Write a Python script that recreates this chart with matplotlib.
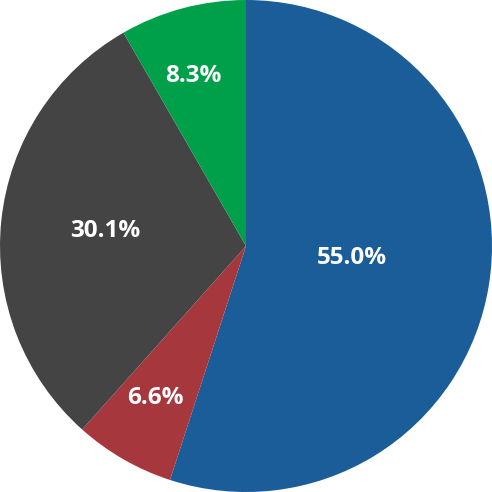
import numpy as np
from matplotlib import pyplot as plt

# slice values (percent), clockwise from 12 o'clock
labels = ['A', 'B', 'C', 'D']
values = [55.0, 6.6, 30.1, 8.3]
colors = ['#1a5d98', '#a5373d', '#444444', '#00a04b']

# where each percentage label sits: fraction of radius, and a small angle nudge (deg)
label_radius = [0.432, 0.71, 0.578, 0.735]
label_nudge = [4.1, -1.5, -1.4, 2.1]

plt.rcParams['font.family'] = ['Open Sans', 'DejaVu Sans']

fig = plt.figure(figsize=(4.92, 4.92), dpi=100)
ax = fig.add_axes([0, 0, 1, 1])
wedges, _ = ax.pie(values, colors=colors, startangle=90, counterclock=False,
                   radius=1, wedgeprops={'linewidth': 0})

for w, v, r, d in zip(wedges, values, label_radius, label_nudge):
    mid = np.deg2rad((w.theta1 + w.theta2) / 2 + d)
    ax.text(r * np.cos(mid), r * np.sin(mid), f'{v:.1f}%', ha='center',
            va='center_baseline', color='white', fontsize=17.5, fontweight='bold')

ax.set_xlim(-1, 1)
ax.set_ylim(-1, 1)
ax.set_aspect('equal')
ax.axis('off')
fig.savefig('out.png', dpi=100)
plt.close(fig)
